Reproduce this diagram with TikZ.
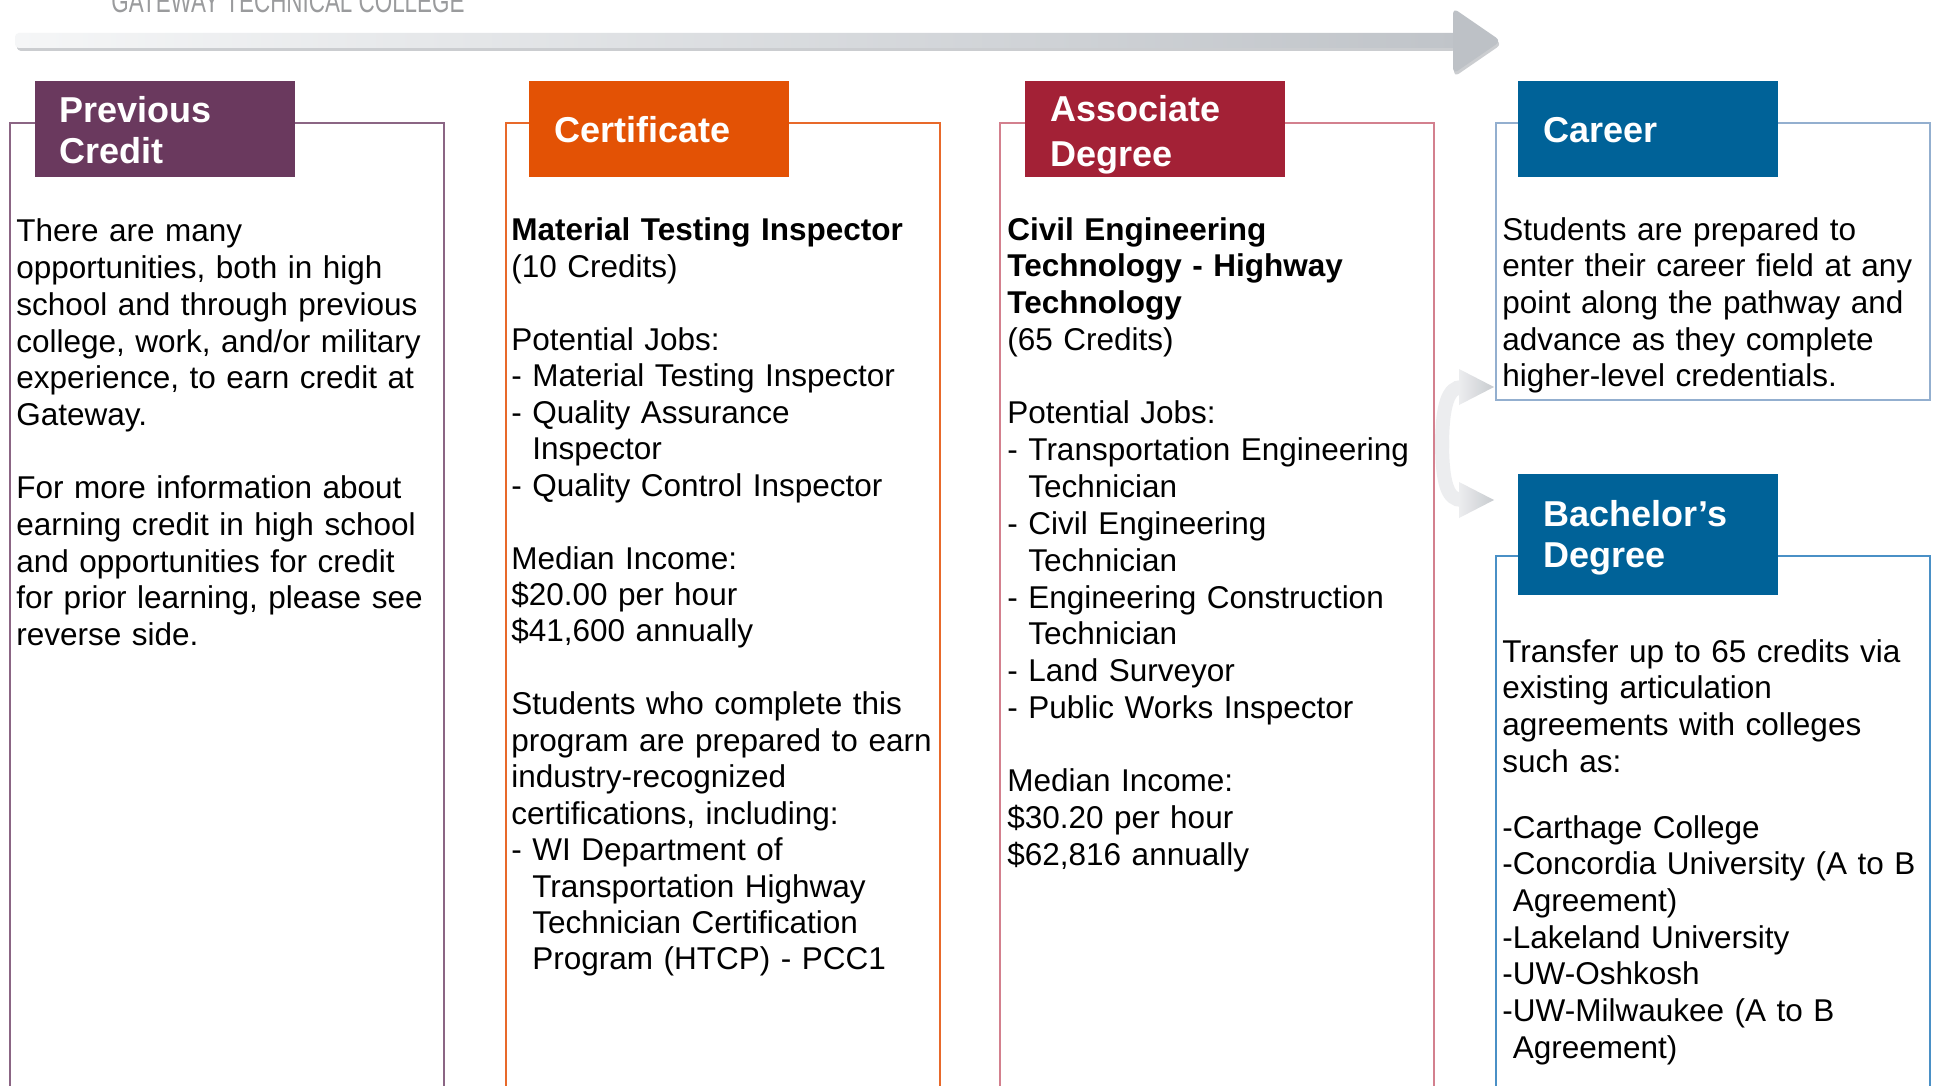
\documentclass[tikz,border=0pt]{standalone}
\usepackage{fontspec}
\setmainfont{Liberation Sans}
\definecolor{purp}{HTML}{6A395E}
\definecolor{purpline}{HTML}{8B6584}
\definecolor{orng}{HTML}{E35205}
\definecolor{orngline}{HTML}{E8692A}
\definecolor{redd}{HTML}{A32136}
\definecolor{reddline}{HTML}{D3808E}
\definecolor{blu}{HTML}{006298}
\definecolor{bluline}{HTML}{93AFCF}
\definecolor{bluline2}{HTML}{4A90C6}
\definecolor{arrowlight}{HTML}{F5F6F7}
\definecolor{arrowdark}{HTML}{C0C4C9}
\definecolor{arrowhead}{HTML}{BDC1C6}
\definecolor{arrowshadow}{HTML}{CBCDD0}
\definecolor{curvelight}{HTML}{ECEDEF}
\definecolor{curvedark}{HTML}{C8CBCF}
\definecolor{titlegray}{HTML}{9A9B9D}
\newcommand{\hin}{\phantom{-\ }}
\tikzset{
  hdrbox/.style={draw=none, inner sep=0pt, minimum width=130pt, minimum height=48pt},
  hdrtext/.style={anchor=base west, inner sep=0pt, text width=125pt, align=left, text=white,
    font=\fontsize{18}{20.5}\selectfont\bfseries},
  body/.style={anchor=base west, inner sep=0pt, text width=222pt, align=left, text=black,
    font=\fontsize{15.75}{18.35}\selectfont},
  frame/.style={line width=0.75pt},
}
\begin{document}
\begin{tikzpicture}[x=0.5pt,y=-0.5pt]
\clip (0,0) rectangle (1939,1086);
\fill[white] (0,0) rectangle (1939,1086);

% title
\node[anchor=base west, inner sep=0pt, text=titlegray, font=\fontsize{16}{16}\selectfont] (title) at (111,13)
  {\scalebox{0.7}[1]{GATEWAY TECHNICAL COLLEGE}};

% top arrow
\coordinate (arrowstart) at (15,41);
\coordinate (arrowtip) at (1501,41);
\fill[arrowshadow, rounded corners=2pt] (17,45) rectangle (1456,51);
\shade[left color=arrowlight, right color=arrowdark, rounded corners=2pt] (15,33) rectangle (1458,48);
\fill[arrowshadow, rounded corners=3pt] (1454,12) -- (1502,44) -- (1454,77) -- cycle;
\fill[arrowhead, rounded corners=3pt] (1453,8) -- (1501,41) -- (1453,74) -- cycle;

% frames
\draw[frame, purpline] (10,1095) -- (10,123) -- (444,123) -- (444,1095);
\draw[frame, orngline] (506,1095) -- (506,123) -- (940,123) -- (940,1095);
\draw[frame, reddline] (1000,1095) -- (1000,123) -- (1434,123) -- (1434,1095);
\draw[frame, bluline] (1496,123) rectangle (1930,400);
\draw[frame, bluline2] (1496,1095) -- (1496,556) -- (1930,556) -- (1930,1095);

% headers
\node[hdrbox, fill=purp] (h1) at (165,129) {};
\node[hdrbox, fill=orng] (h2) at (659,129) {};
\node[hdrbox, fill=redd] (h3) at (1155,129) {};
\node[hdrbox, fill=blu] (h4) at (1648,129) {};
\node[hdrbox, fill=blu, minimum height=60.5pt] (h5) at (1648,534.5) {};
\node[hdrtext] (h1t) at (59,123) {Previous\\Credit};
\node[hdrtext] (h2t) at (554,143) {Certificate};
\node[hdrtext] (h3t) at (1050,122) {Associate\\[1.75pt]Degree};
\node[hdrtext] (h4t) at (1543,143) {Career};
\node[hdrtext] (h5t) at (1543,526) {Bachelor’s\\Degree};

% curved arrows
\coordinate (cmid) at (1442,444);
\coordinate (ctop) at (1462,387);
\coordinate (cbot) at (1462,500);
\draw[line width=7pt, curvelight] ([yshift=-2pt]cmid) .. controls (1442,405) and (1448,387) .. (ctop);
\draw[line width=7pt, curvelight] ([yshift=2pt]cmid) .. controls (1442,485) and (1448,500) .. (cbot);
\shade[left color=curvelight, right color=curvedark] (1459,369) -- (1494,387) -- (1459,405) -- cycle;
\shade[left color=curvelight, right color=curvedark] (1459,482) -- (1494,500) -- (1459,518) -- cycle;

% body texts
\node[body] (b1) at (16,242) {There are many\\
opportunities, both in high\\
school and through previous\\
college, work, and/or military\\
experience, to earn credit at\\
Gateway.\\[\baselineskip]
For more information about\\
earning credit in high school\\
and opportunities for credit\\
for prior learning, please see\\
reverse side.};

\node[body, font=\fontsize{15.75}{18.225}\selectfont] (b2) at (511,241) {\textbf{Material Testing Inspector}\\
(10 Credits)\\[\baselineskip]
Potential Jobs:\\
- Material Testing Inspector\\
- Quality Assurance\\
\hin Inspector\\
- Quality Control Inspector\\[\baselineskip]
Median Income:\\
\$20.00 per hour\\
\$41,600 annually\\[\baselineskip]
Students who complete this\\
program are prepared to earn\\
industry-recognized\\
certifications, including:\\
- WI Department of\\
\hin Transportation Highway\\
\hin Technician Certification\\
\hin Program (HTCP) - PCC1};

\node[body, font=\fontsize{15.75}{18.4}\selectfont] (b3) at (1007,240) {\textbf{Civil Engineering}\\
\textbf{Technology - Highway}\\
\textbf{Technology}\\
(65 Credits)\\[\baselineskip]
Potential Jobs:\\
- Transportation Engineering\\
\hin Technician\\
- Civil Engineering\\
\hin Technician\\
- Engineering Construction\\
\hin Technician\\
- Land Surveyor\\
- Public Works Inspector\\[\baselineskip]
Median Income:\\
\$30.20 per hour\\
\$62,816 annually};

\node[body] (b4) at (1502,240) {Students are prepared to\\
enter their career field at any\\
point along the pathway and\\
advance as they complete\\
higher-level credentials.};

\node[body] (b5) at (1502,662) {Transfer up to 65 credits via\\
existing articulation\\
agreements with colleges\\
such as:};

\node[body] (b6) at (1502,838) {-Carthage College\\
-Concordia University (A to B\\
\phantom{-}Agreement)\\
-Lakeland University\\
-UW-Oshkosh\\
-UW-Milwaukee (A to B\\
\phantom{-}Agreement)};
\end{tikzpicture}
\end{document}
